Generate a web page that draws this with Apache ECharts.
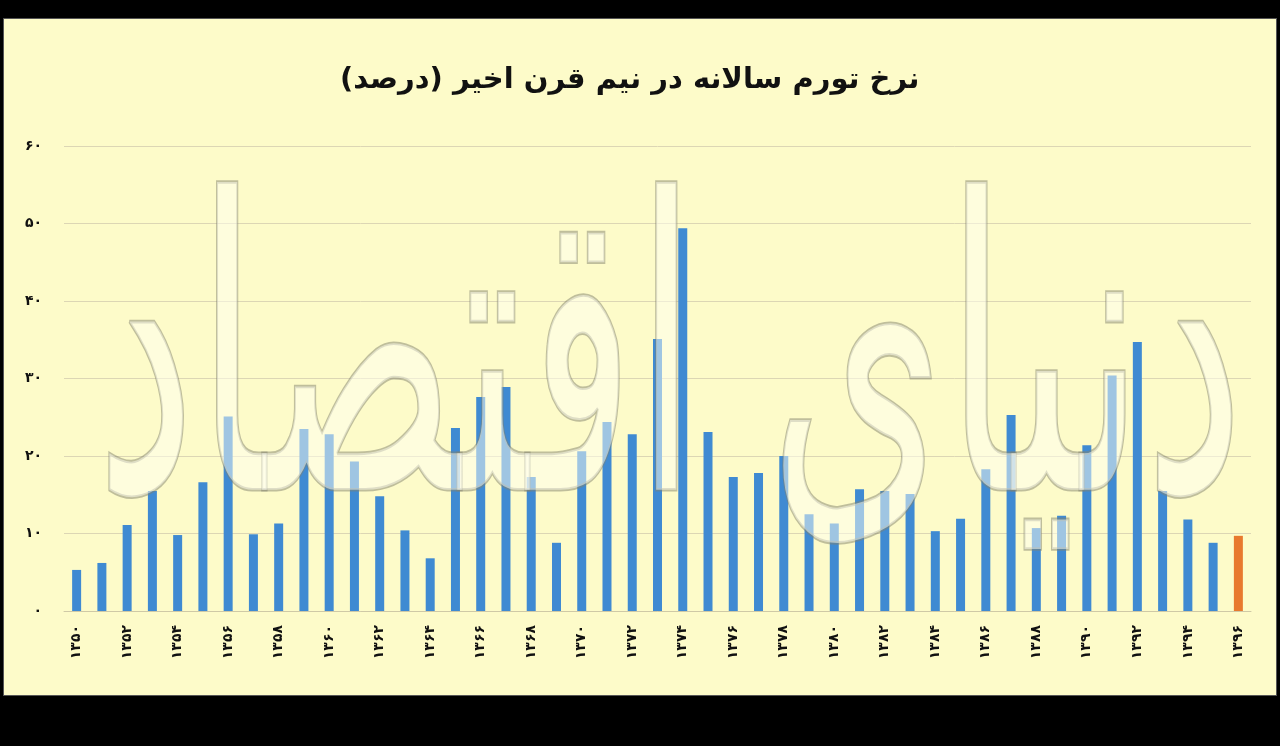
<!DOCTYPE html>
<html>
<head>
<meta charset="utf-8">
<script src="https://cdn.jsdelivr.net/npm/echarts@6/dist/echarts.min.js"></script>
<style>
html,body{margin:0;padding:0;background:#000;width:1280px;height:746px;overflow:hidden;}
#frame{position:absolute;left:3px;top:18px;width:1272px;height:676px;background:#fdfbc9;border:1px solid #555;}
#chart{width:1272px;height:676px;}
</style>
</head>
<body>
<div id="frame"><div id="chart"></div></div>
<script>
const titleText = 'نرخ تورم سالانه در نیم قرن اخیر (درصد)';
const watermarkText = 'دنیای اقتصاد';
const years = ['1350','1351','1352','1353','1354','1355','1356','1357','1358','1359',
  '1360','1361','1362','1363','1364','1365','1366','1367','1368','1369',
  '1370','1371','1372','1373','1374','1375','1376','1377','1378','1379',
  '1380','1381','1382','1383','1384','1385','1386','1387','1388','1389',
  '1390','1391','1392','1393','1394','1395','1396'];
const inflation = [5.3,6.2,11.1,15.5,9.8,16.6,25.1,9.9,11.3,23.5,
  22.8,19.3,14.8,10.4,6.8,23.6,27.6,28.9,17.3,8.8,
  20.6,24.4,22.8,35.1,49.4,23.1,17.3,17.8,20.0,12.5,
  11.3,15.7,15.5,15.1,10.3,11.9,18.3,25.3,10.7,12.3,
  21.4,30.4,34.7,15.5,11.8,8.8,9.7];
const highlightYear = '1396';
const yTicks = [0,10,20,30,40,50,60];

const faDigits = '۰۱۲۳۴۵۶۷۸۹';
function fa(s){ return String(s).replace(/[0-9]/g, d => faDigits[+d]); }

const chart = echarts.init(document.getElementById('chart'));
chart.setOption({
  animation:false,
  backgroundColor:'transparent',
  title:{
    text:titleText, left:331, top:42,
    textStyle:{fontFamily:'DejaVu Sans', fontWeight:'bold', fontSize:29, color:'#111'}
  },
  grid:{left:60, right:25, top:127, bottom:84},
  xAxis:{
    type:'category', data:years,
    axisLine:{lineStyle:{color:'#cfc9a6', width:1}},
    axisTick:{show:false},
    axisLabel:{
      interval:1, rotate:90, margin:14,
      formatter:v=>fa(v),
      fontFamily:'DejaVu Sans', fontWeight:'bold', fontSize:14, color:'#111'
    }
  },
  yAxis:{
    type:'value', min:yTicks[0], max:yTicks[yTicks.length-1], interval:10,
    axisLine:{show:false}, axisTick:{show:false},
    splitLine:{lineStyle:{color:'#dcd6b4', width:1}},
    axisLabel:{
      margin:22, formatter:v=>fa(v),
      fontFamily:'DejaVu Sans', fontWeight:'bold', fontSize:14, color:'#111'
    }
  },
  series:[{
    type:'bar', barWidth:9,
    data:inflation.map((v,i)=>({value:v, itemStyle:{color: years[i]===highlightYear ? '#e8792e' : '#3f8ad2'}})),
    z:2
  }],
  graphic:[{
    type:'text', x:666, y:163, scaleY:1.8, z:100, silent:true,
    style:{
      text:watermarkText, fontFamily:'DejaVu Sans', fontSize:225,
      align:'center', verticalAlign:'top',
      fill:'rgba(255,255,242,0.5)', stroke:'rgba(130,130,110,0.5)', lineWidth:2
    }
  }]
});
</script>
</body>
</html>
